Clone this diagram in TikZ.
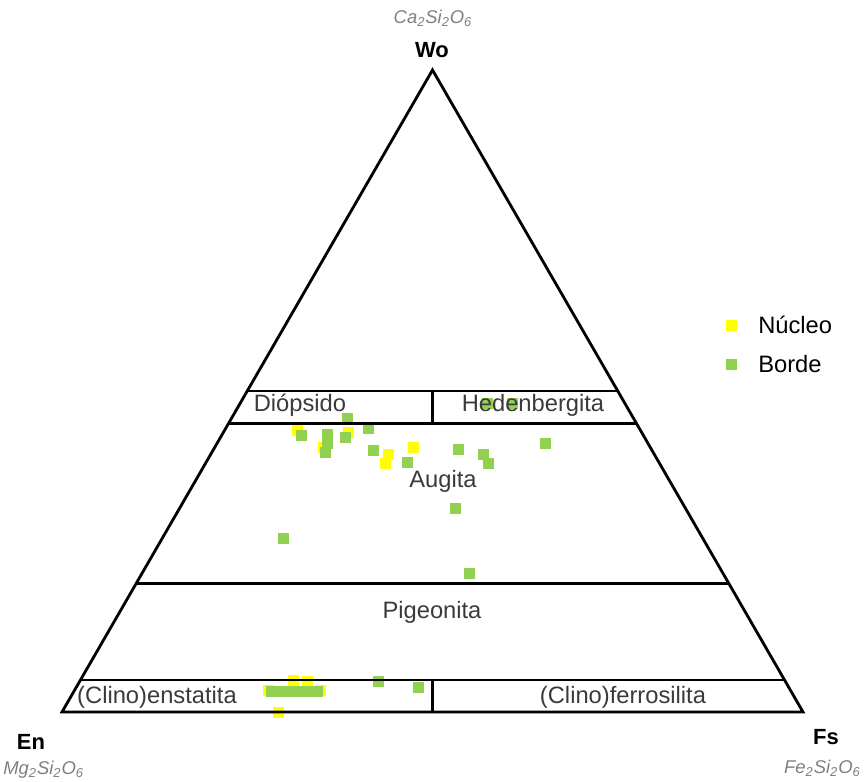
\documentclass[tikz,border=0pt]{standalone}
\usepackage{fontspec}
\setmainfont{Liberation Sans}
\usepackage{xcolor}
\usetikzlibrary{calc,positioning}

\definecolor{nucleo}{HTML}{FFFF00}
\definecolor{borde}{HTML}{92D050}
\definecolor{labelgray}{HTML}{3A3A3A}
\definecolor{formgray}{HTML}{7F7F7F}

\begin{document}
\begin{tikzpicture}[
    x=0.02cm, y=-0.02cm,
    boundary/.style={draw=black, line width=1.6pt, line join=miter},
    field/.style={font=\fontsize{13.5}{15}\selectfont, text=labelgray, inner sep=0pt},
    apexlabel/.style={font=\fontsize{12.5}{14}\selectfont\bfseries, text=black, inner sep=0pt},
    formula/.style={font=\fontsize{10.5}{12}\selectfont\itshape, text=formgray, inner sep=0pt},
    core/.style={fill=nucleo, draw=none, minimum size=0.22cm, inner sep=0pt},
    rim/.style={fill=borde, draw=none, minimum size=0.22cm, inner sep=0pt}
]
    \useasboundingbox (0,0) rectangle (865,781);

    % Triangle corners
    \coordinate (En) at (62,712);
    \coordinate (Fs) at (803,712);
    \coordinate (Wo) at (432.5,70);

    % Analyses: cores
    \foreach \px/\py in {297/430, 323/447, 348/432, 388/454, 385/463, 413/447,
                         268/690, 293/680, 307/681, 320/690, 278/712}
        \node[core] at (\px,\py) {};

    % Analyses: rims
    \foreach \px/\py in {301/435, 327/434, 327/443, 325/452, 345/437, 347/418,
                         368/428, 373/450, 407/462, 458/449, 483/454, 488/463,
                         545/443, 487/403, 512/403, 455/508, 283/538, 469/573,
                         271/691, 279/691, 287/691, 295/691, 303/691, 311/691,
                         317/691, 378/681, 418/687}
        \node[rim] at (\px,\py) {};

    % Outline
    \draw[boundary] (En) -- (Fs) -- (Wo) -- cycle;

    % Field boundaries
    \draw[boundary] ($(En)!0.5!(Wo)$) -- ($(Fs)!0.5!(Wo)$);
    \draw[boundary] ($(En)!0.45!(Wo)$) -- ($(Fs)!0.45!(Wo)$);
    \draw[boundary] ($(En)!0.2!(Wo)$) -- ($(Fs)!0.2!(Wo)$);
    \draw[boundary] ($(En)!0.05!(Wo)$) -- ($(Fs)!0.05!(Wo)$);
    \draw[boundary] ($(En)!0.5!(Fs)$) -- ($(En)!0.5!(Fs)!0.05!(Wo)$);
    \draw[boundary] ($($(En)!0.5!(Fs)$)!0.45!(Wo)$) -- ($($(En)!0.5!(Fs)$)!0.5!(Wo)$);

    % Field names
    \node[field] (diop) at (300,405) {Diópsido};
    \node[field] (hed) at (533,405) {Hedenbergita};
    \node[field] (aug) at (443,481) {Augita};
    \node[field] (pig) at (432,612) {Pigeonita};
    \node[field] (cen) at (157,697) {(Clino)enstatita};
    \node[field] (cfs) at (623,697) {(Clino)ferrosilita};

    % End members
    \node[apexlabel] (wolab) at (432,50) {Wo};
    \node[formula] (wofor) at (433,18) {Ca\textsubscript{2}Si\textsubscript{2}O\textsubscript{6}};
    \node[apexlabel] (enlab) at (31,742) {En};
    \node[formula, anchor=west] (enfor) at (3,770) {Mg\textsubscript{2}Si\textsubscript{2}O\textsubscript{6}};
    \node[apexlabel] (fslab) at (826,737) {Fs};
    \node[formula, anchor=east] (fsfor) at (861,768) {Fe\textsubscript{2}Si\textsubscript{2}O\textsubscript{6}};

    % Legend
    \node[core] (keycore) at (731,325) {};
    \node[field, text=black, right=12pt of keycore] {Núcleo};
    \node[rim] (keyrim) at (731,364) {};
    \node[field, text=black, right=12pt of keyrim] {Borde};
\end{tikzpicture}
\end{document}
